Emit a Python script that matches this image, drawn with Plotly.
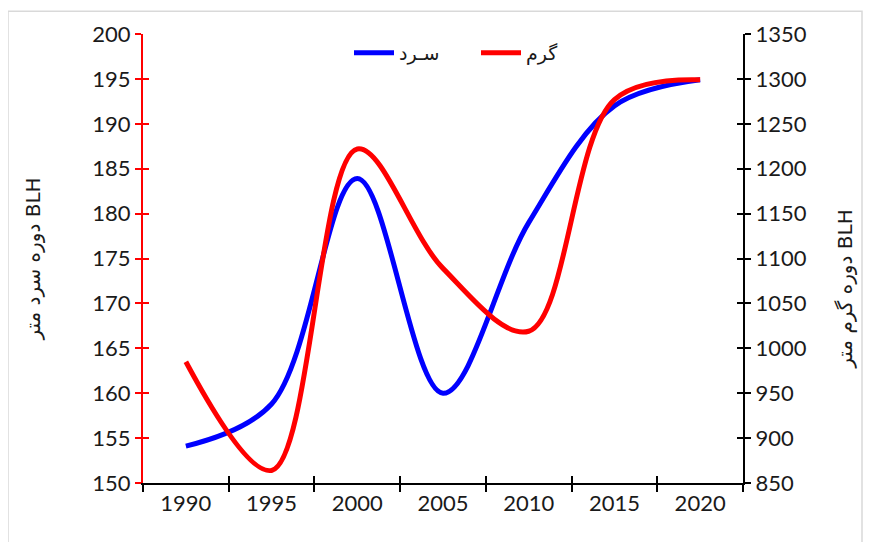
import plotly.graph_objects as go

years = [1990, 1995, 2000, 2005, 2010, 2015, 2020]
cold_blh = [154.1, 158.8, 183.9, 160.0, 179.0, 192.0, 194.9]
warm_blh = [985, 864, 1222, 1089, 1019, 1277, 1299]
cold_name = "سـرد"
warm_name = "گرم"
left_title = "دوره سرد متر BLH"
right_title = "دوره گرم متر BLH"
boundaries = [1987.5, 1992.5, 1997.5, 2002.5, 2007.5, 2012.5, 2017.5, 2022.5]

# the page body has an 8px margin; figure is sized so the plot lands where the reference has it
OFF = 8
W, H = 871 - 2 * OFF, 550 - 2 * OFF
L, R, T, B = 143 - OFF, 743 - OFF, 30 - OFF, 483 - OFF
pw, ph = R - L, B - T

font = "Lato, 'Open Sans', sans-serif"
tickfont = dict(family=font, size=22, color="#1a1a1a")
arfont = "'DejaVu Sans', sans-serif"

fig = go.Figure()
fig.add_trace(go.Scatter(x=years, y=cold_blh, name=cold_name, mode="lines",
                         line=dict(color="#0000ff", width=5, shape="spline", smoothing=1.0),
                         yaxis="y"))
fig.add_trace(go.Scatter(x=years, y=warm_blh, name=warm_name, mode="lines",
                         line=dict(color="#ff0000", width=5, shape="spline", smoothing=1.0),
                         yaxis="y2"))

xr = [boundaries[0], boundaries[-1]]
yr1 = [150, 200]
yr2 = [850, 1350]

fig.update_layout(
    width=W, height=H,
    margin=dict(l=L, r=W - R, t=T, b=H - B),
    paper_bgcolor="white", plot_bgcolor="white",
    showlegend=True,
    legend=dict(orientation="h", x=0.555, xanchor="center", y=1.0, yanchor="top",
                font=dict(family=arfont, size=19, color="#1a1a1a"),
                bgcolor="rgba(0,0,0,0)", itemwidth=40, entrywidthmode="pixels", entrywidth=72),
    xaxis=dict(range=xr, tickmode="array", tickvals=years, ticktext=[str(y) for y in years],
               ticks="", showgrid=False, zeroline=False, showline=True, linecolor="black",
               linewidth=2, tickfont=tickfont,
               minor=dict(tickmode="array", tickvals=boundaries, ticks="outside",
                          ticklen=7, tickwidth=2, tickcolor="black", showgrid=False)),
    xaxis2=dict(range=xr, overlaying="x", anchor="y", side="bottom", tickmode="array",
                tickvals=boundaries, ticks="inside", ticklen=7, tickwidth=2, tickcolor="black",
                showticklabels=False, showgrid=False, zeroline=False, showline=False),
    yaxis=dict(range=yr1, tickmode="linear", tick0=150, dtick=5, ticks="outside",
               ticklen=6, tickwidth=2, tickcolor="#ff0000", showline=True, linecolor="#ff0000",
               linewidth=2, showgrid=False, zeroline=False, tickfont=tickfont,
               title=dict(text=left_title, font=dict(family=arfont, size=20, color="#1a1a1a"),
                          standoff=46)),
    yaxis3=dict(range=yr1, overlaying="y", anchor="x", side="left", tickmode="linear",
                tick0=150, dtick=5, ticks="inside", ticklen=6, tickwidth=2, tickcolor="#ff0000",
                showticklabels=False, showgrid=False, zeroline=False, showline=False),
    yaxis2=dict(range=yr2, overlaying="y", anchor="x", side="right", tickmode="linear",
                tick0=850, dtick=50, ticks="outside", ticklen=6, tickwidth=2, tickcolor="black",
                showline=True, linecolor="black", linewidth=2, showgrid=False, zeroline=False,
                tickfont=tickfont),
    yaxis4=dict(range=yr2, overlaying="y", anchor="x", side="right", tickmode="linear",
                tick0=850, dtick=50, ticks="inside", ticklen=6, tickwidth=2, tickcolor="black",
                showticklabels=False, showgrid=False, zeroline=False, showline=False),
)

# right axis title placed lower, as in the reference
fig.add_annotation(text=right_title, xref="paper", yref="paper",
                   x=(845 - OFF - L) / pw, y=(B - (288 - OFF)) / ph,
                   xanchor="center", yanchor="middle", textangle=-90, showarrow=False,
                   font=dict(family=arfont, size=20, color="#1a1a1a"))

# invisible traces to activate overlay axes (for crossing tick marks)
fig.add_trace(go.Scatter(x=[years[0]], y=[cold_blh[0]], xaxis="x2", yaxis="y3", mode="markers",
                         marker=dict(opacity=0), showlegend=False, hoverinfo="skip"))
fig.add_trace(go.Scatter(x=[years[0]], y=[warm_blh[0]], xaxis="x2", yaxis="y4", mode="markers",
                         marker=dict(opacity=0), showlegend=False, hoverinfo="skip"))

# light chart-area border
fig.add_shape(type="rect", xref="paper", yref="paper",
              x0=(8 - OFF - L) / pw, x1=(W - 1 - L) / pw,
              y0=(B - (545 - OFF)) / ph, y1=(B - (7 - OFF)) / ph,
              line=dict(color="#d9d9d9", width=1.5), fillcolor="rgba(0,0,0,0)", layer="below")

fig.write_html("out.html")
